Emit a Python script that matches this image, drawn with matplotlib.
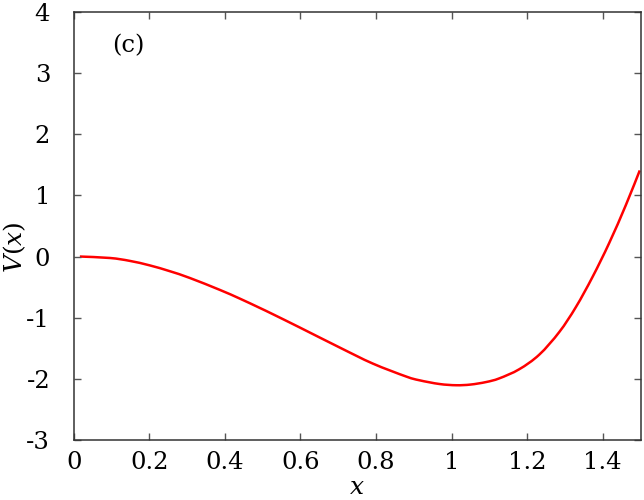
import matplotlib
matplotlib.use("Agg")
import matplotlib.pyplot as plt
from matplotlib.path import Path
from matplotlib.patches import PathPatch
import numpy as np

x_vals = [0.016, 0.096, 0.148, 0.201, 0.254, 0.307, 0.386, 0.439, 0.492, 0.527,
          0.598, 0.703, 0.791, 0.880, 0.915, 0.968, 1.012, 1.050, 1.091, 1.126,
          1.179, 1.232, 1.285, 1.329, 1.373, 1.417, 1.461, 1.498]
v_vals = [0.0, -0.024, -0.071, -0.145, -0.240, -0.351, -0.545, -0.688, -0.841, -0.945,
          -1.162, -1.488, -1.752, -1.966, -2.027, -2.088, -2.108, -2.097, -2.056, -1.996,
          -1.846, -1.607, -1.236, -0.827, -0.334, 0.220, 0.840, 1.410]

x_ticks = [0, 0.2, 0.4, 0.6, 0.8, 1.0, 1.2, 1.4]
x_tick_labels = ["0", "0.2", "0.4", "0.6", "0.8", "1", "1.2", "1.4"]
y_ticks = [-3, -2, -1, 0, 1, 2, 3, 4]
y_tick_labels = ["-3", "-2", "-1", "0", "1", "2", "3", "4"]

plt.rcParams['font.family'] = ['DejaVu Serif']
plt.rcParams['mathtext.fontset'] = 'custom'
plt.rcParams['mathtext.rm'] = 'DejaVu Serif'
plt.rcParams['mathtext.it'] = 'DejaVu Serif:italic'


def smooth_path(xs, ys):
    # Catmull-Rom through the read points, expressed as cubic Bezier segments
    p = np.column_stack([xs, ys])
    n = len(p)
    verts = [p[0]]
    codes = [Path.MOVETO]
    for i in range(n - 1):
        p0 = p[i - 1] if i > 0 else p[i]
        p1 = p[i]
        p2 = p[i + 1]
        p3 = p[i + 2] if i + 2 < n else p[i + 1]
        c1 = p1 + (p2 - p0) / 6.0
        c2 = p2 - (p3 - p1) / 6.0
        verts += [c1, c2, p2]
        codes += [Path.CURVE4] * 3
    return Path(verts, codes)


fig = plt.figure(figsize=(6.44, 5.0), dpi=100)
ax = fig.add_axes([0.1146, 0.1206, 0.8800, 0.8548])
ax.add_patch(PathPatch(smooth_path(x_vals, v_vals), fill=False,
                       edgecolor='#ff0000', lw=1.8, transform=ax.transData))
ax.set_xlim(0, 1.5)
ax.set_ylim(-3, 4)
ax.set_xticks(x_ticks)
ax.set_xticklabels(x_tick_labels)
ax.set_yticks(y_ticks)
ax.set_yticklabels(y_tick_labels)
ax.tick_params(direction='in', length=5, width=1, color='#555555',
               top=True, right=True, labelsize=17.5, labelcolor='black')
ax.tick_params(axis='x', pad=8)
ax.tick_params(axis='y', pad=17)
for s in ax.spines.values():
    s.set_color('#333333')
    s.set_linewidth(1.1)
ax.set_xlabel(r'$x$', fontsize=18, va='center')
ax.xaxis.set_label_coords(0.5, -0.112)
ax.set_ylabel(r'$V(x)$', fontsize=18, va='center')
ax.yaxis.set_label_coords(-0.104, 0.45)
ax.text(0.143, 3.46, '(c)', fontsize=17.5, ha='center', va='center')
fig.savefig('out.png', dpi=100)
